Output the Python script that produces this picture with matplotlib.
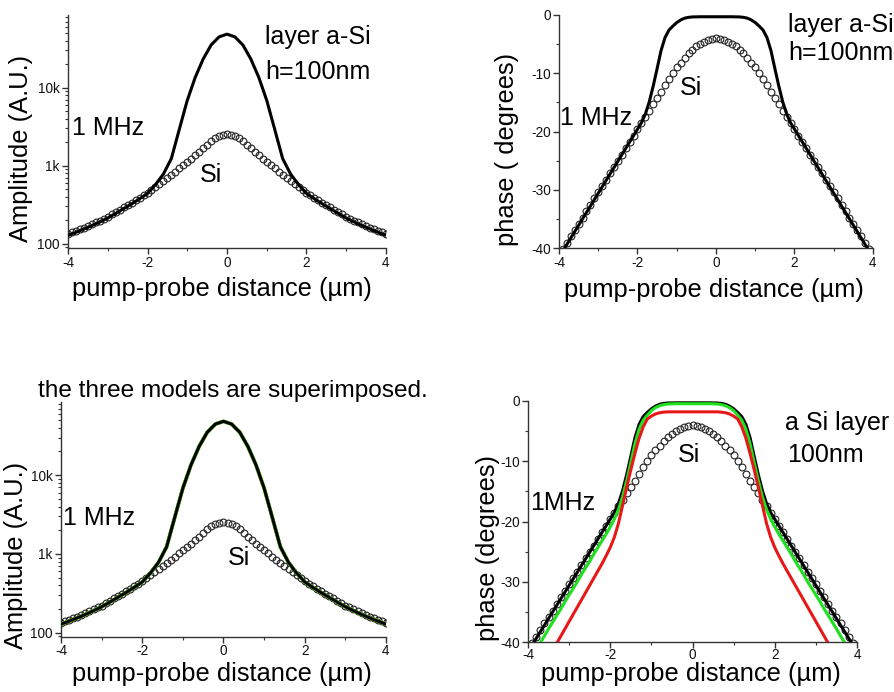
import matplotlib
matplotlib.use("Agg")
import matplotlib.pyplot as plt
import matplotlib.ticker as mticker
import numpy as np

plt.rcParams["font.family"] = ["Liberation Sans", "DejaVu Sans"]
plt.rcParams["axes.unicode_minus"] = False

# pump-probe offset grids (µm)
x_si = np.linspace(-4, 4, 81)
x_amp = np.linspace(-4, 4, 41)
x_phase = np.linspace(-4, 4, 81)

# bare Si substrate, amplitude (A.U.)
amp_si = [133, 140, 146, 153, 160, 168, 177, 188, 198, 209, 221, 237, 254, 272, 292, 313,
          336, 361, 389, 419, 452, 491, 535, 582, 634, 692, 762, 839, 925, 1019, 1122, 1230,
          1355, 1496, 1660, 1841, 2051, 2239, 2388, 2477, 2512, 2477, 2388, 2239, 2051, 1841,
          1660, 1496, 1355, 1230, 1122, 1019, 925, 839, 762, 692, 634, 582, 535, 491, 452,
          419, 389, 361, 336, 313, 292, 272, 254, 237, 221, 209, 198, 188, 177, 168, 160,
          153, 146, 140, 133]

# 100 nm a-Si layer on Si, amplitude (A.U.)
amp_layer = [128, 140, 154, 170, 190, 213, 244, 281, 323, 375, 440, 570, 780, 1230, 2917,
             6840, 13490, 23170, 35080, 44570, 48300, 44570, 35080, 23170, 13490, 6840, 2917,
             1230, 780, 570, 440, 375, 323, 281, 244, 213, 190, 170, 154, 140, 128]

# bare Si substrate, phase (degrees)
phase_si = [-41.2, -40.2, -39.1, -38.0, -36.9, -35.8, -34.8, -33.7, -32.6, -31.5, -30.4,
            -29.4, -28.3, -27.2, -26.1, -25.0, -24.0, -22.9, -21.8, -20.7, -19.6, -18.6,
            -17.5, -16.4, -15.3, -14.2, -13.2, -12.1, -11.0, -10.0, -9.0, -8.2, -7.4, -6.6,
            -6.0, -5.4, -5.0, -4.6, -4.3, -4.1, -4.0, -4.1, -4.3, -4.6, -5.0, -5.4, -6.0,
            -6.6, -7.4, -8.2, -9.0, -10.0, -11.0, -12.1, -13.2, -14.2, -15.3, -16.4, -17.5,
            -18.6, -19.6, -20.7, -21.8, -22.9, -24.0, -25.0, -26.1, -27.2, -28.3, -29.4,
            -30.4, -31.5, -32.6, -33.7, -34.8, -35.8, -36.9, -38.0, -39.1, -40.2, -41.2]

# layer models, phase (degrees)
phase_layer = [-41.6, -40.5, -39.4, -38.3, -37.2, -36.1, -35.0, -33.9, -32.8, -31.7, -30.6,
               -29.5, -28.4, -27.3, -26.2, -25.1, -24.0, -22.9, -21.8, -20.7, -19.6, -18.5,
               -17.0, -14.9, -12.2, -9.2, -6.1, -3.9, -2.6, -1.9, -1.3, -0.85, -0.55, -0.40,
               -0.33, -0.32, -0.3, -0.3, -0.3, -0.3, -0.3, -0.3, -0.3, -0.3, -0.3, -0.32,
               -0.33, -0.40, -0.55, -0.85, -1.3, -1.9, -2.6, -3.9, -6.1, -9.2, -12.2, -14.9,
               -17.0, -18.5, -19.6, -20.7, -21.8, -22.9, -24.0, -25.1, -26.2, -27.3, -28.4,
               -29.5, -30.6, -31.7, -32.8, -33.9, -35.0, -36.1, -37.2, -38.3, -39.4, -40.5,
               -41.6]

phase_green = [-43.5, -42.4, -41.2, -40.1, -39.0, -37.8, -36.7, -35.6, -34.5, -33.3, -32.2,
               -31.1, -30.0, -28.8, -27.7, -26.6, -25.4, -24.3, -23.2, -22.1, -20.9, -19.6,
               -18.0, -15.9, -13.2, -10.2, -7.1, -4.7, -3.2, -2.35, -1.6, -1.1, -0.78, -0.6,
               -0.5, -0.47, -0.45, -0.45, -0.45, -0.45, -0.45, -0.45, -0.45, -0.45, -0.45,
               -0.47, -0.5, -0.6, -0.78, -1.1, -1.6, -2.35, -3.2, -4.7, -7.1, -10.2, -13.2,
               -15.9, -18.0, -19.6, -20.9, -22.1, -23.2, -24.3, -25.4, -26.6, -27.7, -28.8,
               -30.0, -31.1, -32.2, -33.3, -34.5, -35.6, -36.7, -37.8, -39.0, -40.1, -41.2,
               -42.4, -43.5]

phase_red = [-48.6, -47.4, -46.2, -45.0, -43.8, -42.6, -41.4, -40.2, -39.0, -37.8, -36.6,
             -35.4, -34.2, -33.0, -31.8, -30.6, -29.4, -28.2, -27.0, -25.7, -24.3, -22.6,
             -20.3, -17.3, -14.3, -11.4, -8.7, -6.2, -4.3, -3.0, -2.5, -2.15, -1.95, -1.85,
             -1.8, -1.8, -1.8, -1.8, -1.8, -1.8, -1.8, -1.8, -1.8, -1.8, -1.8, -1.8, -1.8,
             -1.85, -1.95, -2.15, -2.5, -3.0, -4.3, -6.2, -8.7, -11.4, -14.3, -17.3, -20.3,
             -22.6, -24.3, -25.7, -27.0, -28.2, -29.4, -30.6, -31.8, -33.0, -34.2, -35.4,
             -36.6, -37.8, -39.0, -40.2, -41.4, -42.6, -43.8, -45.0, -46.2, -47.4, -48.6]

W, H = 895, 692
AX_COLOR = "#333333"
GREEN = "#1ee01e"
RED = "#e81818"
TXT = 18


def box(x0, x1, ytop, ybot):
    return [x0 / W, 1 - ybot / H, (x1 - x0) / W, (ybot - ytop) / H]


def style(ax, xpad=2):
    for side in ("top", "right"):
        ax.spines[side].set_visible(False)
    for side in ("left", "bottom"):
        ax.spines[side].set_linewidth(1.0)
        ax.spines[side].set_color(AX_COLOR)
    ax.tick_params(which="major", direction="out", length=4, width=1.0,
                   labelsize=9.8, pad=2, color=AX_COLOR, labelcolor="#111111")
    ax.tick_params(axis="x", which="major", pad=xpad)
    ax.tick_params(which="minor", direction="out", length=2, width=0.8, color=AX_COLOR)
    ax.set_xlim(-4, 4)
    ax.set_xticks([-4, -2, 0, 2, 4])
    ax.set_xticks([-3, -1, 1, 3], minor=True)


def amp_axis(ax, xpad=2):
    style(ax, xpad)
    ax.set_yscale("log")
    ax.set_ylim(88, 85000)
    ax.yaxis.set_major_locator(mticker.FixedLocator([100, 1000, 10000]))
    ax.yaxis.set_major_formatter(mticker.FixedFormatter(["100", "1k", "10k"]))
    ax.yaxis.set_minor_locator(mticker.LogLocator(base=10, subs=np.arange(2, 10)))
    ax.yaxis.set_minor_formatter(mticker.NullFormatter())


def phase_axis(ax, xpad=2):
    style(ax, xpad)
    ax.set_ylim(-40, 0)
    ax.set_yticks([0, -10, -20, -30, -40])
    ax.set_yticks([-5, -15, -25, -35], minor=True)


def circles(ax, x, y):
    ax.plot(x, y, linestyle="none", marker="o", markersize=4.9, markerfacecolor="none",
            markeredgecolor="#222222", markeredgewidth=0.8, zorder=2)


fig = plt.figure(figsize=(W / 100, H / 100), dpi=100)


def put(x, y, s, **kw):
    kw.setdefault("fontsize", TXT)
    kw.setdefault("va", "baseline")
    fig.text(x / W, 1 - y / H, s, **kw)


# amplitude, single model
ax1 = fig.add_axes(box(68, 386, 15, 248))
amp_axis(ax1)
circles(ax1, x_si, amp_si)
ax1.plot(x_amp, amp_layer, color="black", lw=2.2, zorder=3)

# phase, single model
ax2 = fig.add_axes(box(559, 873, 15, 248))
phase_axis(ax2)
circles(ax2, x_si, phase_si)
ax2.plot(x_phase, phase_layer, color="black", lw=2.2, zorder=3)

# amplitude, three models on top of each other
ax3 = fig.add_axes(box(61, 386, 402, 637))
amp_axis(ax3, xpad=1)
circles(ax3, x_si, amp_si)
ax3.plot(x_amp, amp_layer, color=RED, lw=2.6, zorder=3)
ax3.plot(x_amp, amp_layer, color=GREEN, lw=2.6, zorder=3)
ax3.plot(x_amp, amp_layer, color="black", lw=2.1, zorder=3)

# phase, three models
ax4 = fig.add_axes(box(528, 857, 401, 642))
phase_axis(ax4, xpad=0.5)
circles(ax4, x_si, phase_si)
ax4.plot(x_phase, phase_layer, color="black", lw=2.2, zorder=3)
ax4.plot(x_phase, phase_green, color=GREEN, lw=2.2, zorder=4)
ax4.plot(x_phase, phase_red, color=RED, lw=2.2, zorder=4)

# axis titles
put(222, 289, "pump-probe distance (µm)", ha="center", va="center", fontsize=18.4)
put(714, 290, "pump-probe distance (µm)", ha="center", va="center", fontsize=18.4)
put(222, 674, "pump-probe distance (µm)", ha="center", va="center", fontsize=18.4)
put(691, 674, "pump-probe distance (µm)", ha="center", va="center", fontsize=18.4)
put(21, 148, "Amplitude (A.U.)", ha="center", va="center", rotation=90, fontsize=18.4)
put(507, 149, "phase ( degrees)", ha="center", va="center", rotation=90, fontsize=18.4)
put(16, 555, "Amplitude (A.U.)", ha="center", va="center", rotation=90, fontsize=18.4)
put(488, 548, "phase (degrees)", ha="center", va="center", rotation=90, fontsize=18.4)

# annotations
put(265, 44, "layer a-Si")
put(265, 79, "h=100nm")
put(72, 135, "1 MHz")
put(200, 182, "Si")

put(788, 32, "layer a-Si")
put(788, 60, "h=100nm")
put(680, 95, "Si")
put(560, 125, "1 MHz")

put(38, 397, "the three models are superimposed.", fontsize=17.6)
put(63, 525, "1 MHz")
put(228, 565, "Si")

put(785, 430, "a Si layer")
put(787, 462, "100nm")
put(678, 462, "Si")
put(530, 510, "1MHz")

fig.savefig("out.png", dpi=100)
